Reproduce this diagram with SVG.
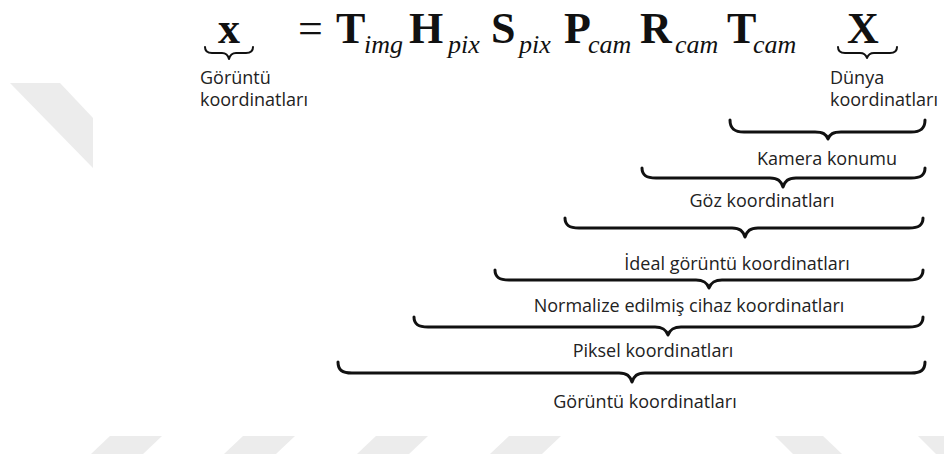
<svg xmlns="http://www.w3.org/2000/svg" width="944" height="460" viewBox="0 0 944 460">
  <style>
    .eq { font-family: "Liberation Serif", "Times New Roman", serif; fill: #111; }
    .big { font-size: 44px; font-weight: bold; }
    .op { font-size: 44px; font-weight: normal; }
    .sub { font-size: 26px; font-style: italic; font-weight: normal; }
    .lbl { font-family: "Open Sans", "Noto Sans", sans-serif; font-size: 18px; fill: #222; }
    .brace { fill: none; stroke: #111; stroke-width: 3; stroke-linecap: round; stroke-linejoin: round; }
    .brace-s { fill: none; stroke: #111; stroke-width: 2; stroke-linecap: round; stroke-linejoin: round; }
    .mark { fill: #ececec; }
  </style>

  <rect width="944" height="460" fill="#ffffff"/>

  <!-- faint background marks -->
  <g id="background-marks">
    <polygon class="mark" points="10,83 60,83 93,118 93,168"/>
    <polygon class="mark" points="110,436 162,436 143,454 91,454"/>
    <polygon class="mark" points="243,436 295,436 276,454 224,454"/>
    <polygon class="mark" points="376,436 428,436 409,454 357,454"/>
    <polygon class="mark" points="509,436 561,436 542,454 490,454"/>
    <polygon class="mark" points="775,436 823,436 842,454 793,454"/>
    <polygon class="mark" points="918,436 966,436 985,454 936,454"/>
  </g>

  <!-- projection equation: each factor is one text with its subscript -->
  <g id="equation" class="eq">
    <text class="big" x="218" y="43">x</text>
    <text class="op" x="298" y="43">=</text>
    <text id="t-img"><tspan class="big" x="336" y="43">T</tspan><tspan class="sub" x="364" y="53">img</tspan></text>
    <text id="h-pix"><tspan class="big" x="409" y="43">H</tspan><tspan class="sub" x="448" y="53">pix</tspan></text>
    <text id="s-pix"><tspan class="big" x="491" y="43">S</tspan><tspan class="sub" x="519" y="53">pix</tspan></text>
    <text id="p-cam"><tspan class="big" x="564" y="43">P</tspan><tspan class="sub" x="588" y="53">cam</tspan></text>
    <text id="r-cam"><tspan class="big" x="640" y="43">R</tspan><tspan class="sub" x="675" y="53">cam</tspan></text>
    <text id="t-cam"><tspan class="big" x="727" y="43">T</tspan><tspan class="sub" x="753" y="53">cam</tspan></text>
    <text class="big" x="847" y="43">X</text>
  </g>

  <!-- labels under the two ends of the equation -->
  <g id="image-coords-top">
    <text class="lbl"><tspan x="200" y="84">Görüntü</tspan><tspan x="200" y="106">koordinatları</tspan></text>
  </g>
  <g id="world-coords">
    <text class="lbl"><tspan x="830" y="84">Dünya</tspan><tspan x="830" y="106">koordinatları</tspan></text>
  </g>

  <!-- nested stage labels -->
  <g id="camera-position">
    <text class="lbl" x="827" y="165" text-anchor="middle">Kamera konumu</text>
  </g>
  <g id="eye-coords">
    <text class="lbl" x="762" y="207" text-anchor="middle">Göz koordinatları</text>
  </g>
  <g id="ideal-image-coords">
    <text class="lbl" x="737" y="270" text-anchor="middle">İdeal görüntü koordinatları</text>
  </g>
  <g id="normalized-device-coords">
    <text class="lbl" x="689" y="312" text-anchor="middle">Normalize edilmiş cihaz koordinatları</text>
  </g>
  <g id="pixel-coords">
    <text class="lbl" x="653" y="357" text-anchor="middle">Piksel koordinatları</text>
  </g>
  <g id="image-coords">
    <text class="lbl" x="645" y="408" text-anchor="middle">Görüntü koordinatları</text>
  </g>

  <!-- underbraces -->
  <g id="connectors">
    <path class="brace-s" d="M205,47 C205,51 207,53 212,53 L222,53 C226,53 228,55 229,59 C230,55 232,53 236,53 L246,53 C251,53 253,51 253,47"/>
    <path class="brace-s" d="M838,47 C838,51 840,53 845,53 L860,53 C864,53 866,55 867,58 C868,55 870,53 874,53 L890,53 C895,53 897,51 897,47"/>

    <path class="brace" d="M730,120 C730,128 734,132 744,132 L815,132 C823,132 826,134 828,139 C830,134 833,132 841,132 L911,132 C921,132 925,128 925,120"/>
    <path class="brace" d="M642,168 C642,175 646,178 656,178 L770,178 C778,178 781,181 783,187 C785,181 788,178 796,178 L911,178 C921,178 925,175 925,168"/>
    <path class="brace" d="M565,218 C565,225 569,228 579,228 L732,228 C740,228 743,231 745,237 C747,231 750,228 758,228 L909,228 C919,228 923,225 923,218"/>
    <path class="brace" d="M495,270 C495,277 499,280 509,280 L696,280 C704,280 707,283 709,288 C711,283 714,280 722,280 L909,280 C919,280 923,277 923,270"/>
    <path class="brace" d="M414,317 C414,324 418,327 428,327 L655,327 C663,327 666,330 668,335 C670,330 673,327 681,327 L909,327 C919,327 923,324 923,317"/>
    <path class="brace" d="M338,362 C338,370 342,373 352,373 L619,373 C627,373 630,376 632,382 C634,376 637,373 645,373 L911,373 C921,373 925,370 925,362"/>
  </g>
</svg>
